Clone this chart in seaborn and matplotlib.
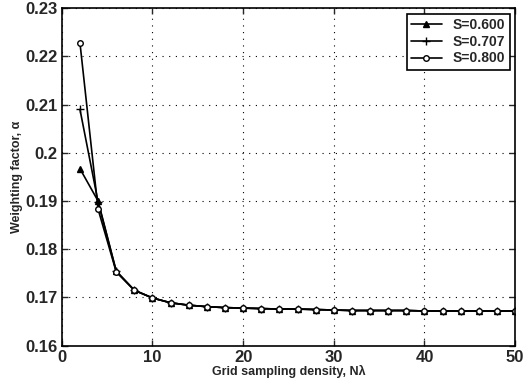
import matplotlib
matplotlib.use("Agg")
import matplotlib.pyplot as plt
import matplotlib.ticker as mticker
import seaborn as sns
import pandas as pd

# grid sampling density N_lambda
density = [2, 4, 6, 8, 10, 12, 14, 16, 18, 20, 22, 24, 26, 28, 30,
           32, 34, 36, 38, 40, 42, 44, 46, 48, 50]

tail = [0.1715, 0.1699, 0.1689, 0.1684, 0.1681, 0.1679, 0.1678, 0.1677,
        0.1676, 0.1676, 0.1675, 0.1674, 0.1673, 0.1673, 0.1673, 0.1673,
        0.1672, 0.1672, 0.1672, 0.1672, 0.1672, 0.1672]

alpha_s600 = [0.1967, 0.1900, 0.1755] + tail
alpha_s707 = [0.2090, 0.1898, 0.1754] + tail
alpha_s800 = [0.2228, 0.1883, 0.1753] + tail

labels = ["S=0.600", "S=0.707", "S=0.800"]
markers = ["^", "+", "o"]

sns.set_style("ticks")
plt.rcParams["font.family"] = ["Liberation Sans", "DejaVu Sans"]
plt.rcParams["font.weight"] = "bold"

df = pd.DataFrame({
    "N": density * 3,
    "alpha": alpha_s600 + alpha_s707 + alpha_s800,
    "S": [labels[0]] * len(density) + [labels[1]] * len(density) + [labels[2]] * len(density),
})

fig = plt.figure(figsize=(5.24, 3.88), dpi=100)
ax = fig.add_axes([0.118, 0.109, 0.865, 0.870])

for lab, mk in zip(labels, markers):
    sub = df[df["S"] == lab]
    sns.lineplot(data=sub, x="N", y="alpha", ax=ax, color="black",
                 marker=mk, markersize=4 if mk != "+" else 6,
                 markerfacecolor="black" if mk == "^" else "white",
                 markeredgecolor="black", markeredgewidth=1.0,
                 linewidth=1.2, label=lab)

ax.set_xlim(0, 50)
ax.set_ylim(0.16, 0.23)
ax.set_xticks([0, 10, 20, 30, 40, 50])
ax.set_yticks([0.16, 0.17, 0.18, 0.19, 0.2, 0.21, 0.22, 0.23])
ax.yaxis.set_major_formatter(mticker.FormatStrFormatter("%g"))
ax.grid(True, linestyle=(0, (1, 5)), color="black", linewidth=0.8)
ax.tick_params(direction="in", labelsize=12, length=4, width=1,
               top=True, right=True, pad=3)
for lbl in ax.get_xticklabels() + ax.get_yticklabels():
    lbl.set_fontweight("bold")
for sp in ax.spines.values():
    sp.set_color("black")
    sp.set_linewidth(1.2)

ax.set_xlabel("Grid sampling density, N\u03bb", fontsize=9, fontweight="bold", labelpad=0)
ax.set_ylabel("Weighting factor, \u03b1", fontsize=9, fontweight="bold", labelpad=2)

leg = ax.legend(loc="upper right", fontsize=10, frameon=True, fancybox=False,
                edgecolor="black", framealpha=1, borderaxespad=0.4,
                handlelength=2.2, labelspacing=0.2, borderpad=0.3)
leg.get_frame().set_linewidth(1.2)
for t in leg.get_texts():
    t.set_fontweight("bold")

fig.savefig("out.png", dpi=100)
